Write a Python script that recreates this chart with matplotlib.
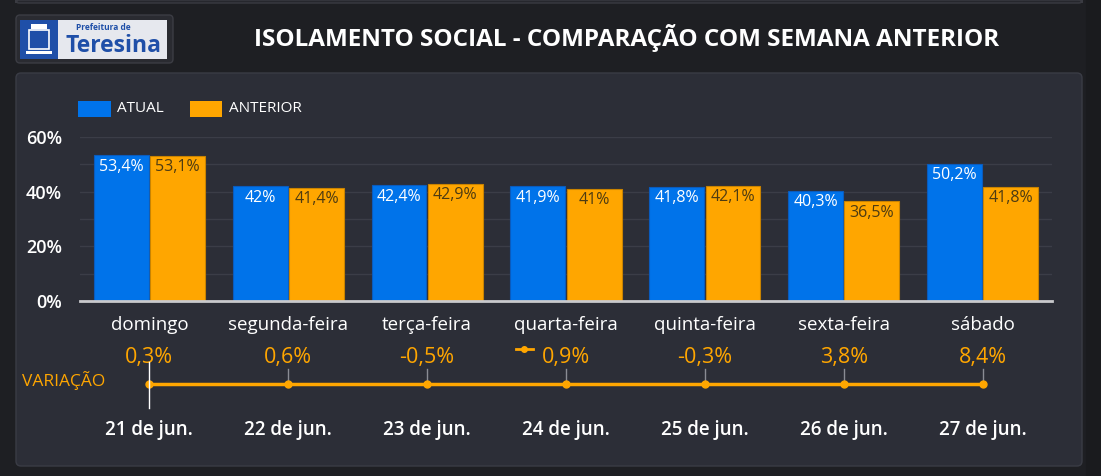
import matplotlib
matplotlib.use("Agg")
import matplotlib.pyplot as plt
import numpy as np
from matplotlib.patches import FancyBboxPatch, Rectangle

plt.rcParams['font.family'] = ['Open Sans', 'DejaVu Sans']

# dados
dias = ["domingo", "segunda-feira", "terça-feira", "quarta-feira", "quinta-feira", "sexta-feira", "sábado"]
datas = ["21 de jun.", "22 de jun.", "23 de jun.", "24 de jun.", "25 de jun.", "26 de jun.", "27 de jun."]
atual = [53.4, 42.0, 42.4, 41.9, 41.8, 40.3, 50.2]
anterior = [53.1, 41.4, 42.9, 41.0, 42.1, 36.5, 41.8]
variacao = [0.3, 0.6, -0.5, 0.9, -0.3, 3.8, 8.4]
yticks = [0, 20, 40, 60]

AZUL = "#0073ea"
LARANJA = "#ffa600"
FUNDO = "#1e1f23"
PAINEL = "#2c2e37"

W, H = 1101, 476
fig = plt.figure(figsize=(W / 100, H / 100), dpi=100, facecolor=FUNDO)

# fundo / paineis em coordenadas de pixel
bg = fig.add_axes([0, 0, 1, 1])
bg.set_xlim(0, W)
bg.set_ylim(H, 0)
bg.axis("off")
bg.add_patch(Rectangle((1086, 0), 20, H, color="#1a1b1e"))
bg.add_patch(FancyBboxPatch((16, 0), 1066, 3, boxstyle="round,pad=0,rounding_size=3",
                            fc="#26272d", ec="#3a3b42", lw=1))
bg.add_patch(FancyBboxPatch((16, 73), 1066, 393, boxstyle="round,pad=0,rounding_size=5",
                            fc=PAINEL, ec="#3a3c45", lw=1))
bg.add_patch(FancyBboxPatch((16, 15), 157, 48, boxstyle="round,pad=0,rounding_size=4",
                            fc="#2a2b31", ec="#3c3d44", lw=1))
# logo
bg.add_patch(Rectangle((20, 20), 147, 39, fc="#e6e8ee", ec="none"))
bg.add_patch(Rectangle((20, 20), 38, 39, fc="#1f4fa8", ec="none"))
bg.add_patch(Rectangle((29, 30), 20, 19, fc="none", ec="white", lw=1.2))
bg.add_patch(Rectangle((31, 24), 16, 5, fc="white", ec="none"))
bg.add_patch(Rectangle((26, 51), 26, 3, fc="white", ec="none"))
bg.text(103, 27, "Prefeitura de", color="#1f4fa8", fontsize=6, fontweight="bold", ha="center", va="center")
bg.text(113, 45.5, "Teresina", color="#1f4fa8", fontsize=16.5, fontweight="bold", ha="center", va="center")

bg.text(627, 38, "ISOLAMENTO SOCIAL - COMPARAÇÃO COM SEMANA ANTERIOR", color="white",
        fontsize=17.5, fontweight="bold", ha="center", va="center")

# legenda
bg.add_patch(Rectangle((78, 101), 33, 16, fc=AZUL, ec="none"))
bg.text(117, 109, "ATUAL", color="white", fontsize=11, va="center")
bg.add_patch(Rectangle((190, 101), 32, 16, fc=LARANJA, ec="none"))
bg.text(229, 109, "ANTERIOR", color="white", fontsize=11, va="center")

bg.text(22, 381, "VARIAÇÃO", color=LARANJA, fontsize=12.5, va="center")

# grafico de barras
x0, x1, ybase, ytop = 80, 1052, 301, 137
ax = fig.add_axes([x0 / W, (H - ybase) / H, (x1 - x0) / W, (ybase - ytop) / H])
ax.set_facecolor("none")
x = np.arange(len(dias))
larg = 0.395
ax.bar(x - 0.203, atual, larg, color=AZUL, edgecolor="#0a5bbd", lw=0.8, zorder=3)
ax.bar(x + 0.203, anterior, larg, color=LARANJA, edgecolor="#c98300", lw=0.8, zorder=3)

def fmt(v):
    s = ("%.1f" % v).replace(".", ",")
    if s.endswith(",0"):
        s = s[:-2]
    return s + "%"

for xi, v in zip(x, atual):
    ax.text(xi - 0.203, v - 1.3, fmt(v), color="white", fontsize=11.5, ha="center", va="top", zorder=4)
for xi, v in zip(x, anterior):
    ax.text(xi + 0.203, v - 1.3, fmt(v), color="#4d3b12", fontsize=11.5, ha="center", va="top", zorder=4)

ax.set_xlim(-0.5, len(dias) - 0.5)
ax.set_ylim(0, 60)
ax.set_yticks(yticks)
ax.set_yticklabels([f"{t}%" for t in yticks])
ax.set_yticks(np.arange(0, 61, 10), minor=True)
ax.grid(axis="y", which="both", color="#3b3d47", lw=1, zorder=0)
ax.set_xticks(x)
ax.set_xticklabels(dias)
ax.tick_params(axis="both", which="both", length=0, colors="white")
ax.tick_params(axis="x", labelsize=13.5, pad=11)
ax.tick_params(axis="y", labelsize=13, pad=13)
for lb in ax.get_yticklabels():
    lb.set_fontweight("semibold")
for s in ["top", "right", "left"]:
    ax.spines[s].set_visible(False)
ax.spines["bottom"].set_color("#c9c9cc")
ax.spines["bottom"].set_linewidth(2)
ax.spines["bottom"].set_zorder(5)

# linha de variacao
ax2 = fig.add_axes([x0 / W, (H - 446) / H, (x1 - x0) / W, 116 / H])
ax2.set_facecolor("none")
ax2.axis("off")
ax2.set_xlim(-0.5, len(dias) - 0.5)
ax2.set_ylim(446, 330)
nivel = [384] * len(variacao)
ax2.plot(x, nivel, color=LARANJA, lw=2.5, marker="o", ms=5, zorder=3)
for xi, v, d in zip(x, variacao, datas):
    ax2.text(xi, 357, fmt(v), color=LARANJA, fontsize=15.5, ha="center", va="center")
    ax2.text(xi, 430, d, color="white", fontsize=13.5, fontweight="semibold", ha="center", va="center")
    if xi > 0:
        ax2.plot([xi, xi], [369, 384], color="#8a8c94", lw=1, zorder=2)
ax2.plot([0, 0], [362, 408], color="white", lw=1, zorder=4)
ax2.plot([2.64, 2.76], [349, 349], color=LARANJA, lw=2)
ax2.plot([2.7], [349], "o", color=LARANJA, ms=4)

fig.savefig("out.png", dpi=100, facecolor=FUNDO)
